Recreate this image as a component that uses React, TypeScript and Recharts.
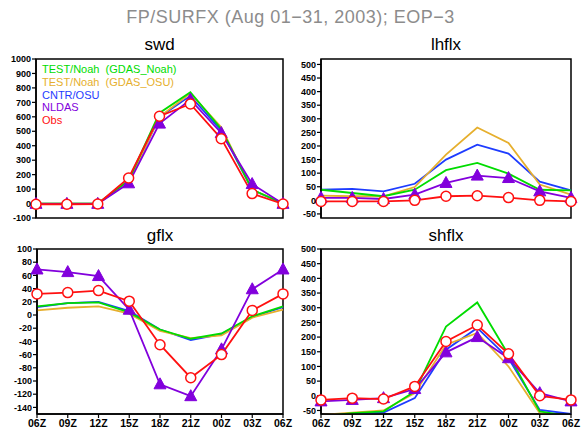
import React from "react";
import { LineChart, Line, XAxis, YAxis, Legend, ReferenceArea } from "recharts";

const hours = ["06Z", "09Z", "12Z", "15Z", "18Z", "21Z", "00Z", "03Z", "06Z"];

const seriesNames = ["TEST/Noah (GDAS_Noah)", "TEST/Noah (GDAS_OSU)", "CNTR/OSU", "NLDAS", "Obs"];
const seriesKeys = ["green", "orange", "blue", "purple", "red"];
const COLORS: Record<string, string> = {
  green: "#00dc00",
  orange: "#e6af2d",
  blue: "#1e3cff",
  purple: "#8200dc",
  red: "#ff1010",
};

// swd
const swdGreen = [0, 0, 0, 160, 627, 770, 516, 97, 0];
const swdOrange = [0, 0, 0, 150, 600, 762, 528, 95, 5];
const swdBlue = [0, 0, 0, 150, 598, 745, 505, 95, 0];
const swdPurple = [-2, -2, -2, 140, 553, 719, 488, 135, -2];
const swdRed = [-5, -5, -3, 177, 604, 689, 449, 69, -3];

// lhflx
const lhGreen = [39, 27, 15, 39, 111, 138, 98, 39, 37];
const lhOrange = [17, 15, 15, 49, 168, 268, 211, 58, 21];
const lhBlue = [39, 42, 33, 61, 150, 205, 172, 69, 37];
const lhPurple = [9, 9, 5, 21, 64, 91, 82, 33, 9];
const lhRed = [-4, -4, -4, 0, 15, 17, 10, 0, -4];

// gflx
const gfGreen = [13, 18, 19, 4, -22, -36, -28, -2, 13];
const gfOrange = [7, 11, 13, 2, -24, -35, -31, -4, 8];
const gfBlue = [12, 18, 20, 6, -22, -38, -29, -3, 12];
const gfPurple = [69, 65, 59, 8, -105, -123, -52, 39, 69];
const gfRed = [32, 34, 37, 21, -45, -95, -60, 7, 32];

// shflx
const shGreen = [-70, -59, -53, 15, 236, 318, 140, -53, -70];
const shOrange = [-65, -57, -50, 9, 174, 214, 100, -59, -70];
const shBlue = [-65, -61, -57, -8, 157, 231, 128, -48, -62];
const shPurple = [-19, -14, -8, 23, 148, 200, 128, 9, -19];
const shRed = [-14, -8, -11, 32, 185, 241, 143, 0, -14];

const swdTicks = [-100, 0, 100, 200, 300, 400, 500, 600, 700, 800, 900, 1000];
const lhTicks = [-50, 0, 50, 100, 150, 200, 250, 300, 350, 400, 450, 500];
const gfTicks = [-140, -120, -100, -80, -60, -40, -20, 0, 20, 40, 60, 80, 100];
const shTicks = [-50, 0, 50, 100, 150, 200, 250, 300, 350, 400, 450, 500];

const FONT = "'Liberation Sans', Arial, Helvetica, sans-serif";

const Triangle = (props: any) => {
  const { cx, cy, index } = props;
  if (cx == null || cy == null) return <g key={`t-${index}`} />;
  const pts = `${cx},${cy - 6.5} ${cx - 6},${cy + 4.5} ${cx + 6},${cy + 4.5}`;
  return <polygon key={`t-${index}`} points={pts} fill={COLORS.purple} stroke={COLORS.purple} strokeWidth={1} />;
};

const LegendContent = () => (
  <div style={{ fontFamily: FONT, fontSize: 11, lineHeight: "12.8px", textAlign: "left" }}>
    {seriesNames.map((n, i) => (
      <div key={n} style={{ color: COLORS[seriesKeys[i]], whiteSpace: "pre" }}>
        {n.replace(" (", "  (")}
      </div>
    ))}
  </div>
);

type PanelProps = {
  title: string;
  left: number;
  top: number;
  width: number;
  height: number;
  margin: { top: number; right: number; bottom: number; left: number };
  yWidth: number;
  domain: [number, number];
  ticks: number[];
  series: number[][];
  showX: boolean;
  legend?: boolean;
  titleTop: number;
};

function Panel(p: PanelProps) {
  const data = hours.map((h, i) => ({
    hour: h,
    green: p.series[0][i],
    orange: p.series[1][i],
    blue: p.series[2][i],
    purple: p.series[3][i],
    red: p.series[4][i],
  }));
  const plotLeft = p.margin.left + p.yWidth;
  const plotWidth = p.width - plotLeft - p.margin.right;
  const axisStroke = { stroke: "#000", strokeWidth: 1.5 };
  return (
    <div style={{ position: "absolute", left: p.left, top: p.top, width: p.width, height: p.height }}>
      <div
        style={{
          position: "absolute",
          left: plotLeft,
          width: plotWidth,
          top: p.titleTop,
          textAlign: "center",
          fontFamily: FONT,
          fontSize: 17,
          lineHeight: "17px",
          color: "#000",
        }}
      >
        {p.title}
      </div>
      <LineChart width={p.width} height={p.height} data={data} margin={p.margin}>
        <XAxis
          dataKey="hour"
          allowDuplicatedCategory={true}
          axisLine={axisStroke}
          tickLine={p.showX ? { stroke: "#000", strokeWidth: 1.2 } : false}
          tick={p.showX ? { fill: "#000", fontSize: 10.5, fontWeight: "bold", fontFamily: FONT } : false}
          tickSize={4}
          tickMargin={2}
          height={p.showX ? 16 : 0}
          interval={0}
        />
        <YAxis
          type="number"
          domain={p.domain}
          ticks={p.ticks}
          allowDataOverflow={true}
          interval={0}
          width={p.yWidth}
          axisLine={axisStroke}
          tickLine={{ stroke: "#000", strokeWidth: 1.2 }}
          tickSize={4}
          tickMargin={1}
          tick={{ fill: "#000", fontSize: 9, fontWeight: "bold", fontFamily: FONT }}
        />
        <ReferenceArea
          y1={p.domain[0]}
          y2={p.domain[1]}
          fill="none"
          fillOpacity={0}
          stroke="#000"
          strokeWidth={1.5}
          ifOverflow="visible"
        />
        {p.legend && (
          <Legend
            layout="vertical"
            align="center"
            verticalAlign="middle"
            wrapperStyle={{ left: plotLeft + 6, top: 63, width: 200 }}
            content={<LegendContent />}
          />
        )}
        <Line type="linear" dataKey="blue" stroke={COLORS.blue} strokeWidth={1.8} dot={false} isAnimationActive={false} />
        <Line type="linear" dataKey="orange" stroke={COLORS.orange} strokeWidth={1.8} dot={false} isAnimationActive={false} />
        <Line type="linear" dataKey="green" stroke={COLORS.green} strokeWidth={1.8} dot={false} isAnimationActive={false} />
        <Line
          type="linear"
          dataKey="purple"
          stroke={COLORS.purple}
          strokeWidth={1.8}
          dot={(props: any) => <Triangle {...props} key={`tri-${props.index}`} />}
          isAnimationActive={false}
        />
        <Line
          type="linear"
          dataKey="red"
          stroke={COLORS.red}
          strokeWidth={1.8}
          dot={{ r: 5, fill: "#fff", stroke: COLORS.red, strokeWidth: 1.5 }}
          isAnimationActive={false}
        />
      </LineChart>
    </div>
  );
}

export default function App() {
  return (
    <div
      style={{
        position: "absolute",
        left: 0,
        top: 0,
        width: 581,
        height: 430,
        background: "#fff",
        overflow: "hidden",
      }}
    >
      <div
        style={{
          position: "absolute",
          left: 0,
          top: 7,
          width: 581,
          textAlign: "center",
          fontFamily: FONT,
          fontSize: 18,
          lineHeight: "20px",
          color: "#8c8c8c",
          letterSpacing: 0.5,
        }}
      >
        FP/SURFX (Aug 01−31, 2003); EOP−3
      </div>
      <Panel
        title="swd"
        left={0}
        top={0}
        width={300}
        height={230}
        margin={{ top: 59, right: 17, bottom: 12, left: 2 }}
        yWidth={34}
        domain={[-100, 1000]}
        ticks={swdTicks}
        series={[swdGreen, swdOrange, swdBlue, swdPurple, swdRed]}
        showX={false}
        legend={true}
        titleTop={36}
      />
      <Panel
        title="lhflx"
        left={290}
        top={0}
        width={291}
        height={230}
        margin={{ top: 59, right: 10, bottom: 12, left: 2 }}
        yWidth={29}
        domain={[-65, 520]}
        ticks={lhTicks}
        series={[lhGreen, lhOrange, lhBlue, lhPurple, lhRed]}
        showX={false}
        titleTop={36}
      />
      <Panel
        title="gflx"
        left={0}
        top={230}
        width={300}
        height={200}
        margin={{ top: 19, right: 17, bottom: 0, left: 2 }}
        yWidth={35}
        domain={[-150, 100]}
        ticks={gfTicks}
        series={[gfGreen, gfOrange, gfBlue, gfPurple, gfRed]}
        showX={true}
        titleTop={-3}
      />
      <Panel
        title="shflx"
        left={290}
        top={230}
        width={291}
        height={200}
        margin={{ top: 19, right: 10, bottom: 0, left: 2 }}
        yWidth={29}
        domain={[-62, 500]}
        ticks={shTicks}
        series={[shGreen, shOrange, shBlue, shPurple, shRed]}
        showX={true}
        titleTop={-3}
      />
    </div>
  );
}
